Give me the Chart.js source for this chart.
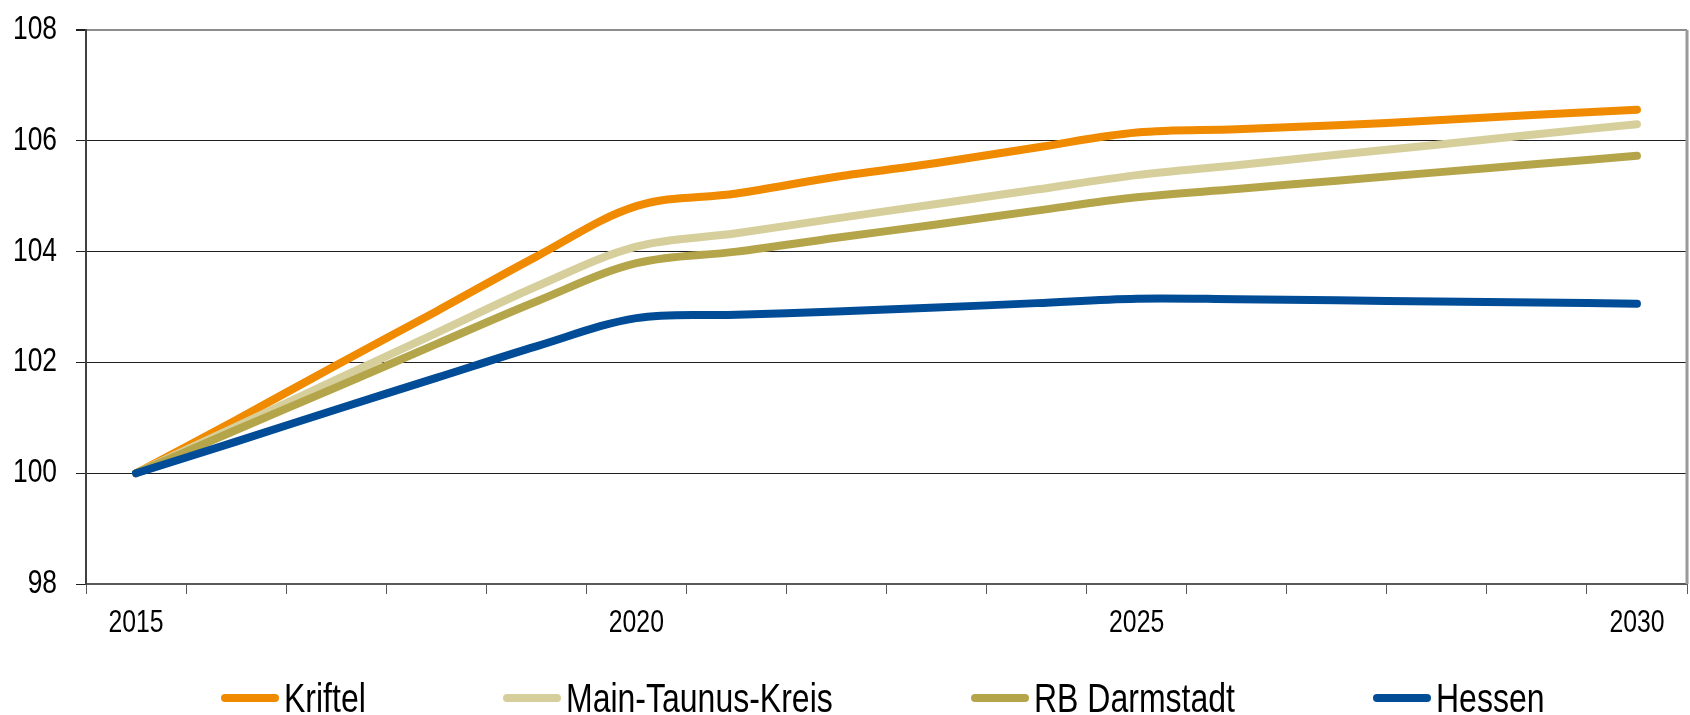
<!DOCTYPE html>
<html>
<head>
<meta charset="utf-8">
<script src="https://cdn.jsdelivr.net/npm/chart.js@4/dist/chart.umd.min.js"></script>
<style>
  html, body { margin: 0; padding: 0; background: #fff; overflow: hidden; }
  #wrap { position: relative; width: 1690px; height: 715px; }
  #legend {
    position: absolute; left: 82px; width: 1601px; top: 678px; height: 40px;
    display: flex; justify-content: center; align-items: center; gap: 138px;
    font-family: 'Liberation Sans', Arial, sans-serif;
    font-size: 40px; line-height: 40px; color: #000; white-space: nowrap;
  }
  .item { display: flex; align-items: center; flex: none; }
  .swatch { flex: none; width: 58px; height: 8px; border-radius: 4px; margin-right: 5px; }
  .label { display: inline-block; transform: scaleX(0.8); transform-origin: left center; }
</style>
</head>
<body>
<div id="wrap">
  <canvas id="chart" width="1690" height="715"></canvas>
  <div id="legend"></div>
</div>
<script>
// Bevölkerungsentwicklung, Index 2015 = 100
const years = [2015, 2016, 2017, 2018, 2019, 2020, 2021, 2022, 2023, 2024, 2025, 2026, 2027, 2028, 2029, 2030];
const kriftel = [100, 100.96, 101.95, 102.92, 103.91, 104.82, 105.05, 105.35, 105.6, 105.88, 106.15, 106.21, 106.28, 106.37, 106.47, 106.56];
const mainTaunusKreis = [100, 100.84, 101.69, 102.53, 103.37, 104.09, 104.33, 104.6, 104.86, 105.12, 105.38, 105.56, 105.75, 105.93, 106.12, 106.3];
const rbDarmstadt = [100, 100.78, 101.55, 102.33, 103.1, 103.79, 104.0, 104.25, 104.49, 104.74, 104.98, 105.13, 105.28, 105.43, 105.58, 105.73];
const hessen = [100, 100.57, 101.15, 101.72, 102.29, 102.8, 102.86, 102.92, 102.99, 103.07, 103.15, 103.14, 103.12, 103.1, 103.08, 103.06];
const yMin = 98, yMax = 108, yStep = 2;

const fontFamily = "'Liberation Sans', Arial, sans-serif";
const narrow = 0.8; // the original uses a condensed face

// squeeze canvas text horizontally (no narrow font installed)
const narrowText = {
  id: 'narrowText',
  beforeInit(chart) {
    const ctx = chart.ctx;
    const fill = ctx.fillText.bind(ctx);
    const measure = ctx.measureText.bind(ctx);
    ctx.fillText = function(text, x, y, maxWidth) {
      ctx.save();
      ctx.translate(x, y);
      ctx.scale(narrow, 1);
      fill(text, 0, 0);
      ctx.restore();
    };
    ctx.measureText = function(text) {
      const m = measure(text);
      return {
        width: m.width * narrow,
        actualBoundingBoxAscent: m.actualBoundingBoxAscent,
        actualBoundingBoxDescent: m.actualBoundingBoxDescent,
        actualBoundingBoxLeft: m.actualBoundingBoxLeft * narrow,
        actualBoundingBoxRight: m.actualBoundingBoxRight * narrow
      };
    };
  }
};

// right edge of the plot frame
const plotFrame = {
  id: 'plotFrame',
  afterDraw(chart) {
    const { ctx, chartArea: a } = chart;
    ctx.save();
    ctx.strokeStyle = '#9a9a9a';
    ctx.lineWidth = 3;
    ctx.beginPath();
    ctx.moveTo(a.right, a.top);
    ctx.lineTo(a.right, a.bottom);
    ctx.stroke();
    ctx.restore();
  }
};

const chart = new Chart(document.getElementById('chart'), {
  type: 'line',
  data: {
    labels: years,
    datasets: [
      { label: 'Kriftel', data: kriftel, borderColor: '#f08a00', order: 3 },
      { label: 'Main-Taunus-Kreis', data: mainTaunusKreis, borderColor: '#d6cf9c', order: 2 },
      { label: 'RB Darmstadt', data: rbDarmstadt, borderColor: '#b5a54a', order: 1 },
      { label: 'Hessen', data: hessen, borderColor: '#004c97', order: 0 }
    ]
  },
  options: {
    responsive: false,
    animation: false,
    layout: { padding: { left: 0, right: 3, top: 30, bottom: 71 } },
    elements: {
      point: { radius: 0 },
      line: { borderWidth: 8, tension: 0.35, borderCapStyle: 'round', borderJoinStyle: 'round', fill: false }
    },
    plugins: {
      legend: { display: false },
      tooltip: { enabled: false }
    },
    scales: {
      x: {
        offset: true,
        grid: { offset: true, drawOnChartArea: false, drawTicks: true, tickLength: 10, color: '#595959' },
        border: { color: '#595959', width: 2 },
        ticks: {
          autoSkip: false,
          maxRotation: 0,
          padding: 11,
          color: '#000',
          font: { family: fontFamily, size: 31 },
          callback: function(value, index) {
            return years[index] % 5 === 0 ? String(years[index]) : '';
          }
        },
        afterFit: function(scale) { scale.height = 60; }
      },
      y: {
        min: yMin,
        max: yMax,
        grid: {
          color: ctx => ctx.tick && ctx.tick.value === yMax ? '#8c8c8c' : '#1f1f1f',
          lineWidth: ctx => ctx.tick && ctx.tick.value === yMax ? 2 : 1,
          tickLength: 10,
          tickColor: '#1f1f1f'
        },
        border: { color: '#404040', width: 2 },
        ticks: {
          stepSize: yStep,
          padding: 19,
          color: '#000',
          font: { family: fontFamily, size: 33 }
        },
        afterFit: function(scale) {
          scale.width = 86;
          scale.paddingTop = 0;
          scale.paddingBottom = 0;
        }
      }
    }
  },
  plugins: [narrowText, plotFrame]
});

// legend below the chart, in dataset order
const legendEl = document.getElementById('legend');
chart.data.datasets.forEach(ds => {
  const item = document.createElement('div');
  item.className = 'item';
  const sw = document.createElement('span');
  sw.className = 'swatch';
  sw.style.background = ds.borderColor;
  const txt = document.createElement('span');
  txt.className = 'label';
  txt.textContent = ds.label;
  item.appendChild(sw);
  item.appendChild(txt);
  legendEl.appendChild(item);
  item.style.width = (58 + 5 + txt.getBoundingClientRect().width) + 'px';
});
</script>
</body>
</html>
